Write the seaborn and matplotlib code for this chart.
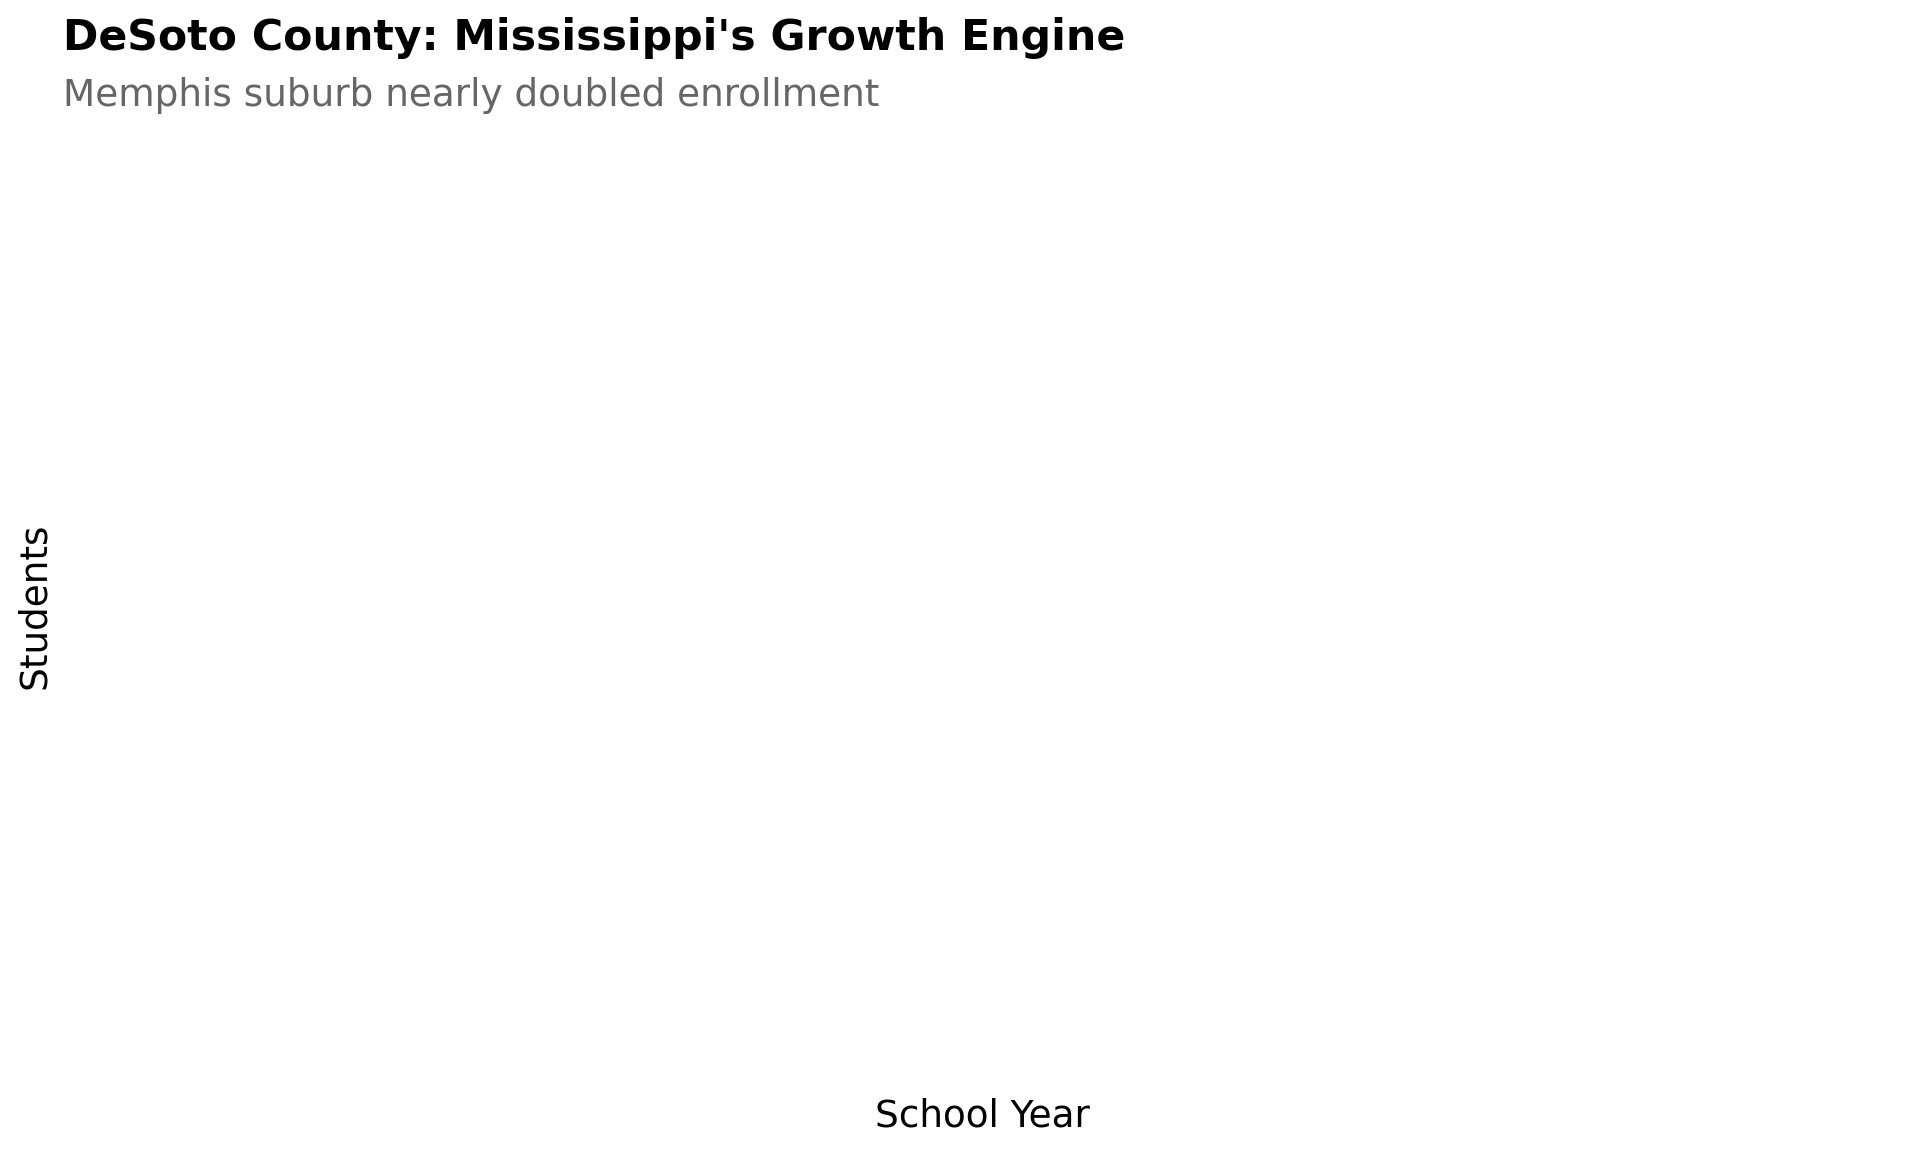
import matplotlib
matplotlib.use("Agg")
import matplotlib.pyplot as plt
import pandas as pd
import seaborn as sns

# no data points are visible in the chart, so the series are empty
school_years = []
students = []

sns.set_theme(style="white")
plt.rcParams['font.family'] = ['DejaVu Sans']

df = pd.DataFrame({"School Year": pd.Series(school_years, dtype=float),
                   "Students": pd.Series(students, dtype=float)})

fig, ax = plt.subplots(figsize=(10, 6), dpi=192)
fig.subplots_adjust(left=0.033, right=0.990, bottom=0.057, top=0.891)

sns.lineplot(data=df, x="School Year", y="Students", ax=ax, color="#1f77b4")

ax.set_xticks([])
ax.set_yticks([])
ax.set_xlabel("School Year", fontsize=14, color="black", labelpad=4)
ax.set_ylabel("Students", fontsize=14, color="black", labelpad=4)
sns.despine(ax=ax, left=True, bottom=True)

fig.text(0.033, 0.957, "DeSoto County: Mississippi's Growth Engine",
         fontsize=16, fontweight="bold", color="black", ha="left", va="baseline")
fig.text(0.033, 0.908, "Memphis suburb nearly doubled enrollment",
         fontsize=14, color="#666666", ha="left", va="baseline")

fig.savefig("out.png", dpi=192)
